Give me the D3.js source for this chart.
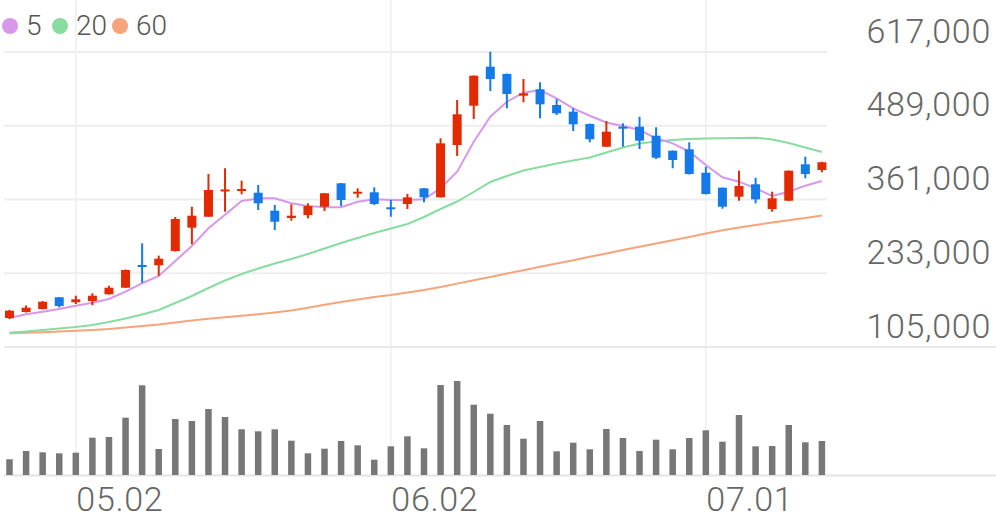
<!DOCTYPE html>
<html>
<head>
<meta charset="utf-8">
<script src="https://cdn.jsdelivr.net/npm/d3@7"></script>
<style>
html,body{margin:0;padding:0;background:#fff;}
svg{display:block;}
text{font-family:Roboto,"Noto Sans",sans-serif;}
</style>
</head>
<body>
<svg id="chart" width="996" height="519"></svg>
<script>
const dates = ["04.25","04.28","04.29","04.30","05.02","05.07","05.08","05.09","05.12","05.13",
"05.14","05.15","05.16","05.19","05.20","05.21","05.22","05.23","05.26","05.27",
"05.28","05.29","05.30","06.02","06.04","06.05","06.09","06.10","06.11","06.12",
"06.13","06.16","06.17","06.18","06.19","06.20","06.23","06.24","06.25","06.26",
"06.27","06.30","07.01","07.02","07.03","07.04","07.07","07.08","07.09","07.10"];

const openP = [155300,165700,171000,191300,182600,184800,196500,207900,247300,246800,
271600,312100,331100,376600,377500,372800,341600,328900,334100,348500,
389100,371800,373500,347500,353200,380400,364800,455600,523800,591500,
578800,541200,552300,525000,513400,492000,452600,487400,487400,471700,
445700,448100,407500,381500,365900,387400,344500,358900,422100,412200];
const highP = [169200,177000,184800,191800,194000,198200,211400,239500,285000,263500,
330600,348500,405300,415200,393600,386200,351500,352700,354400,372300,
389600,380400,382200,360100,370500,380900,467200,533700,576200,617500,
579700,570100,564400,535400,519300,492900,497200,493300,504700,486300,
446000,460300,417900,381800,411000,398800,374500,411300,435300,426600];
const lowP = [153600,164900,170100,173600,179600,177400,196100,207400,216600,228700,
270700,283200,331100,339800,370000,342800,308100,324200,328400,341000,
349700,364100,351500,331100,344500,356100,364500,436500,500700,549300,
519300,529700,501900,507700,479900,460300,452300,452600,448600,431300,
415200,404400,369700,345000,358900,354400,339800,358400,397800,408200];
const closeP = [168000,173200,183600,176200,187800,194000,207900,238600,246100,258300,
327200,332900,377500,378400,379200,354400,322500,332900,349700,371800,
360100,374500,353200,345000,364800,364800,458500,508900,575900,570100,
544100,545300,526200,510600,491500,465500,478700,484600,463100,433500,
429600,405300,370500,348500,384400,361300,363100,411000,405300,425600];
const volume = [157,240,227,217,223,373,380,573,897,260,
560,540,660,580,457,437,457,343,217,263,
340,297,153,287,387,267,900,940,703,613,
500,363,540,237,323,257,460,370,240,353,
257,370,447,333,600,287,290,500,327,340];
const ma5 = [155300,161800,166300,171000,176700,181900,188300,201000,215600,228200,
254300,280300,311000,334600,358400,363100,363100,354400,349700,347500,
347500,357200,361300,360100,360100,361300,380400,409200,461300,504700,
530700,546400,551000,536600,519300,506400,494600,488600,481600,467200,
458500,444000,420900,399500,391900,380400,367100,374500,385000,393100];
const ma20 = [129800,131900,134500,137100,139700,143200,148400,154500,161400,169200,
181400,193500,207400,220400,231700,241200,249900,257700,266400,276000,
285500,294200,302900,310700,318500,330600,344500,357500,374000,391400,
401800,411300,417400,423500,428700,433900,442600,451300,458200,461700,
464300,466000,466900,467200,467700,468300,465200,459100,451300,443500];
const ma60 = [128800,129600,130700,131900,133100,134500,136200,138800,141400,144000,
147500,151000,153900,156500,159100,161900,164900,168300,173000,178200,
183100,187400,191800,195200,199600,203900,209100,215000,220900,226500,
232600,238300,244200,249900,255600,261500,267300,273400,278900,284600,
290400,295900,302000,307700,312400,316700,320900,324900,328900,333200];
const priceTicks = [105000,233000,361000,489000,617000];
const xTickLabels = ["05.02","06.02","07.01"];
const maNames = ["5","20","60"];
const maColors = ["#d898ea","#88dca0","#f7a47c"];
const upColor = "#e22900", downColor = "#1479e9";

const svg = d3.select("#chart");
const W = 996;

const x = d3.scalePoint().domain(dates).range([9.5, 821.9]);
const y = d3.scaleLinear().domain([105000, 617000]).range([347, 52]);
const yv = d3.scaleLinear().domain([0, 1000]).range([475, 375]);

// vertical grid lines
svg.append("g").selectAll("line").data(xTickLabels).join("line")
  .attr("x1", d => x(d)).attr("x2", d => x(d))
  .attr("y1", 0).attr("y2", 475)
  .attr("stroke", "#eeeeee").attr("stroke-width", 1.5);

// horizontal grid lines
svg.append("g").selectAll("line").data(priceTicks.filter(t => t !== 105000)).join("line")
  .attr("x1", 4).attr("x2", 827)
  .attr("y1", d => y(d)).attr("y2", d => y(d))
  .attr("stroke", "#eeeeee").attr("stroke-width", 2);

// panel separators
svg.append("line").attr("x1", 4).attr("x2", W).attr("y1", y(105000)).attr("y2", y(105000))
  .attr("stroke", "#e8e8e8").attr("stroke-width", 2);
svg.append("line").attr("x1", 4).attr("x2", W).attr("y1", 475.5).attr("y2", 475.5)
  .attr("stroke", "#e4e4e4").attr("stroke-width", 2);

// price axis labels
const yAxis = d3.axisRight(y).tickValues(priceTicks).tickFormat(d3.format(",")).tickSize(0);
const ya = svg.append("g").attr("transform", "translate(991,0)").call(yAxis);
ya.select(".domain").remove();
ya.selectAll("text")
  .attr("x", 0).attr("dy", "-10px")
  .attr("text-anchor", "end")
  .attr("font-size", 34).attr("font-weight", 300)
  .attr("letter-spacing", "0.7px")
  .attr("fill", "#666").attr("font-family", "Roboto");

// x axis labels
const xAxis = d3.axisBottom(x).tickValues(xTickLabels).tickSize(0);
const xa = svg.append("g").attr("transform", "translate(0,476)").call(xAxis);
xa.select(".domain").remove();
xa.selectAll("text")
  .attr("y", 0).attr("dy", "35px")
  .attr("text-anchor", "start")
  .attr("font-size", 34).attr("font-weight", 300)
  .attr("letter-spacing", "0.7px")
  .attr("fill", "#666").attr("font-family", "Roboto");

// volume bars
svg.append("g").selectAll("rect").data(volume).join("rect")
  .attr("x", (d, i) => x(dates[i]) - 3.25).attr("width", 6.5)
  .attr("y", d => yv(d)).attr("height", d => 475 - yv(d))
  .attr("fill", "#777777");

// moving averages
const line = d3.line().x((d, i) => x(dates[i])).y(d => y(d)).curve(d3.curveLinear);
[ma60, ma20, ma5].forEach((arr, k) => {
  const idx = 2 - k;
  svg.append("path").datum(arr).attr("d", line)
    .attr("fill", "none").attr("stroke", maColors[idx]).attr("stroke-width", 2);
});

// candles
const candles = svg.append("g");
dates.forEach((d, i) => {
  const o = openP[i], c = closeP[i], h = highP[i], l = lowP[i];
  const col = c >= o ? upColor : downColor;
  const cx = x(d);
  candles.append("line").attr("x1", cx).attr("x2", cx)
    .attr("y1", y(h)).attr("y2", y(l))
    .attr("stroke", col).attr("stroke-width", 2);
  const top = y(Math.max(o, c)), bot = y(Math.min(o, c));
  candles.append("rect").attr("x", cx - 4.5).attr("width", 9)
    .attr("y", top).attr("height", Math.max(2, bot - top))
    .attr("fill", col);
});

// legend
const lg = svg.append("g");
const legendX = [10, 60, 120];
maNames.forEach((n, i) => {
  lg.append("circle").attr("cx", legendX[i]).attr("cy", 26).attr("r", 8).attr("fill", maColors[i]);
  lg.append("text").attr("x", legendX[i] + 16).attr("y", 35)
    .attr("font-size", 28).attr("font-weight", 300).attr("fill", "#555")
    .attr("font-family", "Roboto").text(n);
});
</script>
</body>
</html>
